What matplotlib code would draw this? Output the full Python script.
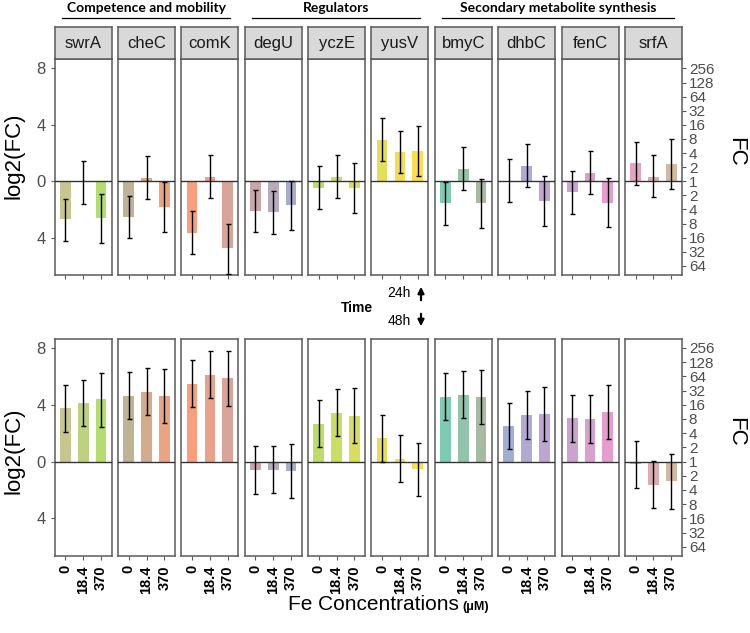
import numpy as np
import matplotlib
matplotlib.use('Agg')
import matplotlib.pyplot as plt
from matplotlib.colors import LinearSegmentedColormap
from matplotlib.lines import Line2D
from matplotlib.patches import FancyArrowPatch

plt.rcParams['font.family'] = 'Liberation Sans'

genes = ['swrA', 'cheC', 'comK', 'degU', 'yczE', 'yusV', 'bmyC', 'dhbC', 'fenC', 'srfA']
conc = ['0', '18.4', '370']
groups = [('Competence and mobility', 0, 2), ('Regulators', 3, 5), ('Secondary metabolite synthesis', 6, 9)]

# 24h log2(FC), error bar low / high
val_24 = {
    'swrA': [-2.71, -0.05, -2.62], 'cheC': [-2.53, 0.26, -1.82], 'comK': [-3.64, 0.33, -4.77],
    'degU': [-2.10, -2.20, -1.72], 'yczE': [-0.45, 0.33, -0.47], 'yusV': [2.96, 2.06, 2.13],
    'bmyC': [-1.56, 0.90, -1.56], 'dhbC': [0.03, 1.11, -1.42], 'fenC': [-0.78, 0.62, -1.51],
    'srfA': [1.28, 0.33, 1.23],
}
lo_24 = {
    'swrA': [-4.23, -1.60, -4.37], 'cheC': [-4.04, -1.25, -3.57], 'comK': [-5.15, -1.18, -6.55],
    'degU': [-3.62, -3.71, -3.47], 'yczE': [-1.99, -1.18, -2.22], 'yusV': [1.42, 0.57, 0.38],
    'bmyC': [-3.07, -0.59, -3.33], 'dhbC': [-1.46, -0.40, -3.17], 'fenC': [-2.31, -0.87, -3.28],
    'srfA': [-0.24, -1.15, -0.54],
}
hi_24 = {
    'swrA': [-1.23, 1.42, -0.87], 'cheC': [-1.04, 1.77, -0.05], 'comK': [-2.10, 1.87, -3.05],
    'degU': [-0.59, -0.66, 0.03], 'yczE': [1.06, 1.87, 1.30], 'yusV': [4.47, 3.57, 3.90],
    'bmyC': [-0.05, 2.44, 0.19], 'dhbC': [1.56, 2.65, 0.35], 'fenC': [0.71, 2.15, 0.21],
    'srfA': [2.80, 1.89, 3.00],
}

# 48h
val_48 = {
    'swrA': [3.76, 4.11, 4.37], 'cheC': [4.65, 4.93, 4.62], 'comK': [5.49, 6.08, 5.85],
    'degU': [-0.59, -0.56, -0.68], 'yczE': [2.63, 3.43, 3.24], 'yusV': [1.64, 0.21, -0.54],
    'bmyC': [4.53, 4.72, 4.55], 'dhbC': [2.49, 3.26, 3.33], 'fenC': [3.05, 3.00, 3.52],
    'srfA': [-0.16, -1.62, -1.38],
}
lo_48 = {
    'swrA': [2.09, 2.49, 2.46], 'cheC': [3.03, 3.29, 2.72], 'comK': [3.85, 4.46, 3.92],
    'degU': [-2.25, -2.21, -2.58], 'yczE': [0.99, 1.81, 1.34], 'yusV': [0.00, -1.43, -2.46],
    'bmyC': [2.91, 3.10, 2.65], 'dhbC': [0.85, 1.60, 1.43], 'fenC': [1.41, 1.34, 1.60],
    'srfA': [-1.85, -3.24, -3.31],
}
hi_48 = {
    'swrA': [5.40, 5.77, 6.27], 'cheC': [6.34, 6.60, 6.55], 'comK': [7.16, 7.75, 7.75],
    'degU': [1.06, 1.10, 1.22], 'yczE': [4.30, 5.09, 5.16], 'yusV': [3.29, 1.88, 1.34],
    'bmyC': [6.22, 6.38, 6.48], 'dhbC': [4.13, 4.95, 5.26], 'fenC': [4.72, 4.67, 5.42],
    'srfA': [1.46, 0.07, 0.54],
}

left_ticks = [8, 4, 0, -4]
right_ticks = list(range(-6, 9))

# colour ramp over the 30 bars, genes in alphabetical order
ramp = LinearSegmentedColormap.from_list('set2', ['#66c2a5', '#fc8d62', '#8da0cb', '#e78ac3', '#a6d854', '#ffd92f'])
alpha_genes = sorted(genes, key=str.lower)
colors = {g: [ramp((alpha_genes.index(g) * 3 + j) / 29) for j in range(3)] for g in genes}

W, H = 750, 633
fig = plt.figure(figsize=(7.5, 6.33), dpi=100)

def fx(px):
    return px / W

def fy(py):
    return 1 - py / H

left0, pw, step = 54.7, 57.0, 63.35
rows = [(59.3, 275.0, val_24, lo_24, hi_24), (338.7, 556.0, val_48, lo_48, hi_48)]
border = '#5a5a5a'

for r, (ytop, ybot, vals, los, his) in enumerate(rows):
    for i, g in enumerate(genes):
        x0 = left0 + i * step
        ax = fig.add_axes([fx(x0), fy(ybot), pw / W, (ybot - ytop) / H])
        x = np.arange(1, 4)
        v = np.array(vals[g])
        lo = np.array(los[g])
        hi = np.array(his[g])
        ax.bar(x, v, width=0.6, color=colors[g], alpha=0.85, zorder=2)
        ax.axhline(0, color='#333333', lw=1.0, zorder=3)
        ax.errorbar(x, v, yerr=[v - lo, hi - v], fmt='none', ecolor='black',
                    elinewidth=1.0, capsize=1.8, capthick=1.0, zorder=4)
        ax.set_xlim(0.4, 3.6)
        ax.set_ylim(-6.65, 8.65)
        for s in ax.spines.values():
            s.set_color(border)
            s.set_linewidth(1.1)
        ax.set_xticks(x)
        ax.tick_params(axis='x', length=3, color=border, width=0.8)
        if r == 1:
            ax.set_xticklabels(conc, rotation=90, fontsize=10.5, fontweight='bold')
        else:
            ax.set_xticklabels([])
        if i == 0:
            ax.set_yticks(left_ticks)
            ax.set_yticklabels([str(abs(t)) for t in left_ticks], fontsize=12, color='#4d4d4d')
            ax.tick_params(axis='y', length=3, color=border, width=0.8)
        elif i == len(genes) - 1:
            ax.yaxis.tick_right()
            ax.set_yticks(right_ticks)
            ax.set_yticklabels([str(2 ** abs(t)) for t in right_ticks], fontsize=11, color='#4d4d4d')
            ax.tick_params(axis='y', length=3, color=border, width=0.8, pad=2)
        else:
            ax.set_yticks([])

        if r == 0:
            sax = fig.add_axes([fx(x0), fy(59.3), pw / W, 32 / H])
            sax.set_facecolor('#d9d9d9')
            sax.set_xticks([])
            sax.set_yticks([])
            for s in sax.spines.values():
                s.set_color(border)
                s.set_linewidth(1.1)
            sax.text(0.5, 0.48, g, ha='center', va='center', fontsize=12, color='#1a1a1a',
                     transform=sax.transAxes)

# group headers
for name, a, b in groups:
    xl = left0 + a * step + 7
    xr = left0 + b * step + pw - 8
    fig.add_artist(Line2D([fx(xl), fx(xr)], [fy(18.3), fy(18.3)], transform=fig.transFigure,
                          color='black', lw=0.9))
    fig.text(fx((xl + xr) / 2), fy(8), name, ha='center', va='center', fontsize=10,
             fontweight='bold', family='Lato')

# axis titles
fig.text(fx(14), fy(156), 'log2(FC)', rotation=90, ha='center', va='center', fontsize=16)
fig.text(fx(14), fy(451), 'log2(FC)', rotation=90, ha='center', va='center', fontsize=16)
fig.text(fx(736), fy(152), 'FC', rotation=-90, ha='center', va='center', fontsize=16)
fig.text(fx(736), fy(432), 'FC', rotation=-90, ha='center', va='center', fontsize=16)
fig.text(fx(288), fy(605), 'Fe Concentrations', ha='left', va='center', fontsize=15)
fig.text(fx(462), fy(607), '(μM)', ha='left', va='center', fontsize=9, fontweight='bold')

# time annotation
fig.text(fx(357), fy(308), 'Time', ha='center', va='center', fontsize=10, fontweight='bold')
fig.text(fx(399), fy(293), '24h', ha='center', va='center', fontsize=10)
fig.text(fx(399), fy(321), '48h', ha='center', va='center', fontsize=10)
fig.add_artist(FancyArrowPatch((fx(421), fy(303)), (fx(421), fy(284)), transform=fig.transFigure,
                               arrowstyle='-|>', mutation_scale=9, lw=1.6, color='black'))
fig.add_artist(FancyArrowPatch((fx(421), fy(311)), (fx(421), fy(329)), transform=fig.transFigure,
                               arrowstyle='-|>', mutation_scale=9, lw=1.6, color='black'))

fig.savefig('out.png', dpi=100)
